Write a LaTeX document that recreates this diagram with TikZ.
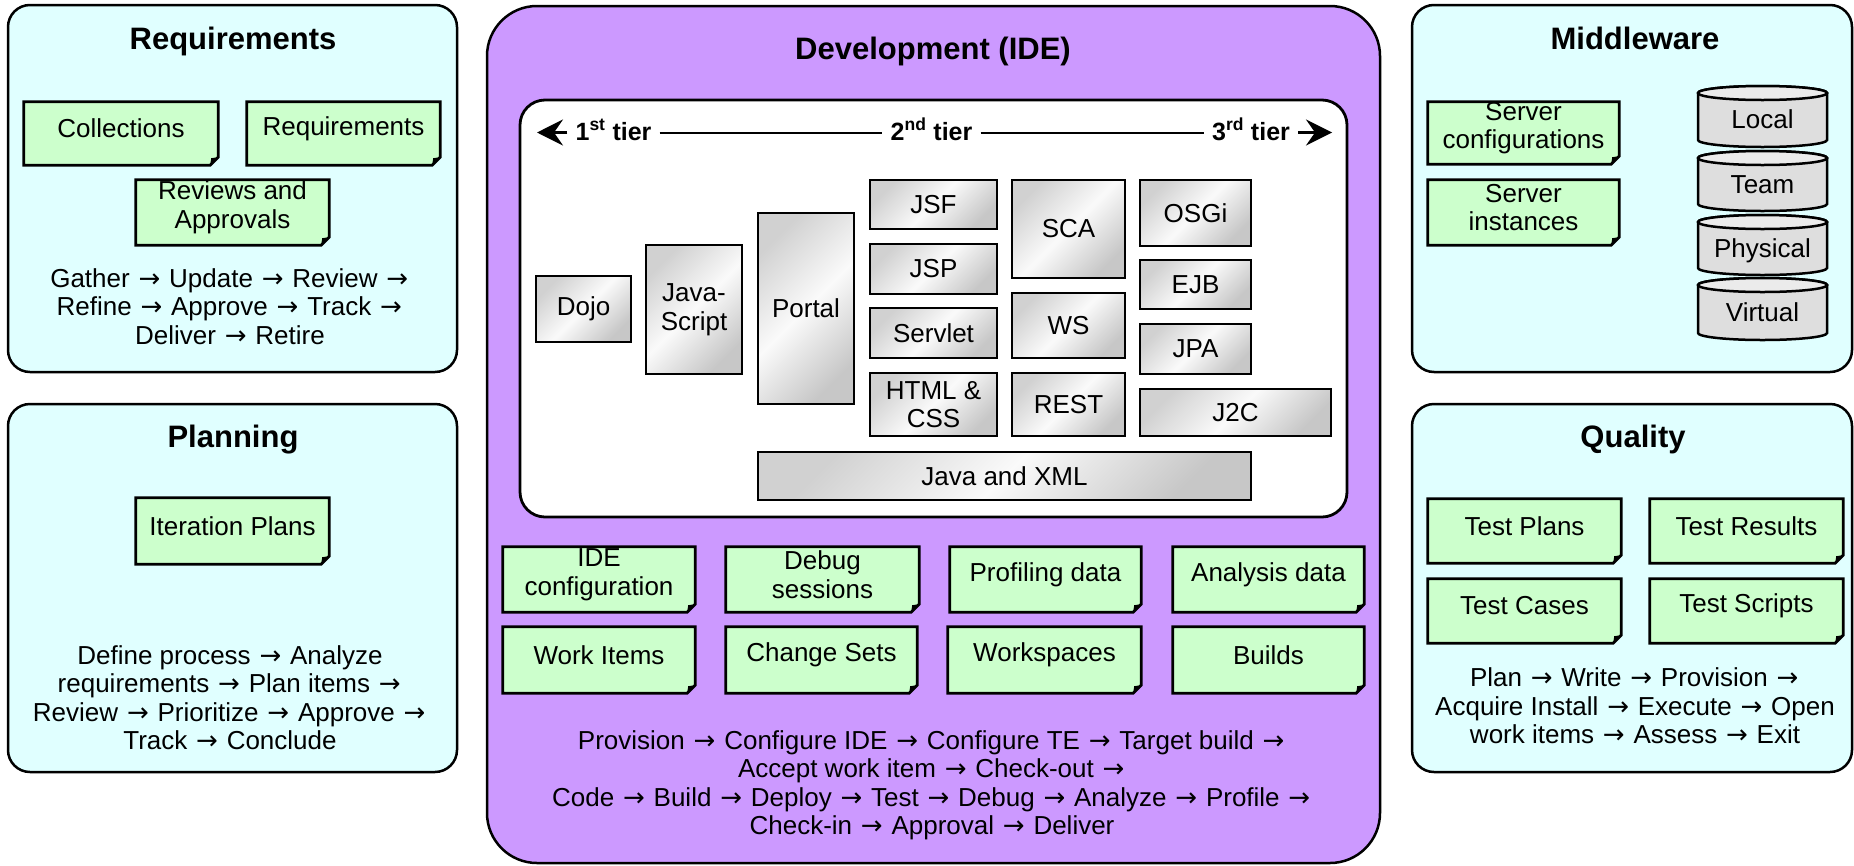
\documentclass[tikz,border=0pt]{standalone}
\usepackage{fontspec}
\setmainfont{Liberation Sans}
\newfontfamily\arrowfont{DejaVu Sans}[Scale=1.0]
\usetikzlibrary{arrows.meta}
\pgfdeclarelayer{background}
\pgfsetlayers{background,main}
\definecolor{cyanbg}{HTML}{E0FFFF}
\definecolor{devpurple}{HTML}{CC99FF}
\definecolor{notegreen}{HTML}{CCFFCC}
\definecolor{cylfill}{HTML}{DEDEDE}
\definecolor{cyltopfill}{HTML}{EBEBEB}
\newcommand\ra{\kern0.06em{\arrowfont →}\kern0.06em}
\newcommand\bodyfont{\fontsize{26}{28.5}\selectfont}
\newcommand\titlefont{\fontsize{31}{34}\selectfont\bfseries}
\newcommand\tierfont{\fontsize{25}{28}\selectfont\bfseries}
\tikzset{
  panel/.style={draw=black, line width=2.5pt, rounded corners=22pt, inner sep=0pt},
  paneltitle/.style={font=\titlefont, inner sep=0pt, anchor=base},
  txt/.style={font=\bodyfont, align=center, inner sep=0pt},
  cyltxt/.style={font=\bodyfont, inner sep=0pt, anchor=base},
  notetxt/.style={font=\bodyfont, align=center, inner sep=0pt},
  noteshape/.style={draw=black, fill=notegreen, line width=2.8pt, line join=miter},
  gbox/.style={draw=black, line width=2.8pt, font=\bodyfont, align=center, inner sep=0pt,
    top color=black!18, bottom color=black!22, middle color=black!2, shading angle=45},
  tier/.style={font=\tierfont, inner xsep=8pt, inner ysep=0pt, text height=15pt, text depth=0pt},
  tierline/.style={line width=2pt},
  tierarrow/.style={line width=2.5pt, -{Stealth[length=26pt,width=26pt,inset=9pt]}},
  cylbody/.style={draw=black, fill=cylfill, line width=2.5pt},
  cyltop/.style={draw=black, fill=cyltopfill, line width=2.5pt},
}
\newcommand\mknote[6]{%
  \node[notetxt, minimum width=#4, minimum height=#5] (#1) at (#2,#3-5) {#6};
  \begin{pgfonlayer}{background}
    \filldraw[noteshape] ([yshift=-5pt]#1.north west) -- ([yshift=-5pt]#1.north east)
      -- ([yshift=3pt]#1.south east) -- ([xshift=-8pt,yshift=-5pt]#1.south east)
      -- ([yshift=-5pt]#1.south west) -- cycle;
    \fill ([yshift=3pt]#1.south east) -- ([xshift=-8pt,yshift=-5pt]#1.south east)
      -- ([xshift=-7pt,yshift=2pt]#1.south east) -- cycle;
  \end{pgfonlayer}}
\newcommand\mkcyl[5]{% name, ytop, ybottom, baseline, label
  \begin{pgfonlayer}{background}
    \filldraw[cylbody] (1698,#2+7) -- (1698,#3-7)
      arc[start angle=180, end angle=360, x radius=64.5pt, y radius=7pt]
      -- (1827,#2+7)
      arc[start angle=0, end angle=180, x radius=64.5pt, y radius=7pt] -- cycle;
    \filldraw[cyltop] (1762.5,#2+7) ellipse [x radius=64.5pt, y radius=7pt];
  \end{pgfonlayer}
  \node[cyltxt] (#1) at (1762.5,#4) {#5};}
\begin{document}
\begin{tikzpicture}[x=1pt, y=-1pt]
\useasboundingbox (0,0) rectangle (1854,865);
% panels
\begin{pgfonlayer}{background}
  \node[panel, fill=cyanbg, minimum width=449, minimum height=367] (req) at (232.5,188.5) {};
  \node[panel, fill=cyanbg, minimum width=449, minimum height=368] (plan) at (232.5,588) {};
  \node[panel, fill=cyanbg, minimum width=440, minimum height=367] (mid) at (1632,188.5) {};
  \node[panel, fill=cyanbg, minimum width=440, minimum height=368] (qual) at (1632,588) {};
  \node[panel, fill=devpurple, rounded corners=50pt, minimum width=893, minimum height=857] (dev) at (933.5,434.5) {};
  \node[panel, fill=white, line width=2.8pt, rounded corners=25pt, minimum width=827, minimum height=417] (tiers) at (933.5,308.5) {};
\end{pgfonlayer}
% titles
\node[paneltitle] (reqt) at (233,49) {Requirements};
\node[paneltitle] (plant) at (233,447) {Planning};
\node[paneltitle] (midt) at (1635,49) {Middleware};
\node[paneltitle] (qualt) at (1633,447) {Quality};
\node[paneltitle] (devt) at (933,59) {Development (IDE)};
% requirements
\mknote{coll}{121}{133.5}{194}{63}{Collections}
\mknote{reqs}{343.5}{133.5}{193}{63}{Requirements}
\mknote{rev}{232.5}{212.5}{193}{65}{Reviews and\\Approvals}
\node[txt] (reqproc) at (230,306.5) {Gather \ra{} Update \ra{} Review \ra\\Refine \ra{} Approve \ra{} Track \ra\\Deliver \ra{} Retire};
% planning
\mknote{iter}{232.5}{531}{193}{66}{Iteration Plans}
\node[txt] (planproc) at (230,697.5) {Define process \ra{} Analyze\\requirements \ra{} Plan items \ra\\Review \ra{} Prioritize \ra{} Approve \ra\\Track \ra{} Conclude};
% middleware
\mknote{scfg}{1523.5}{133}{191}{62}{Server\\configurations}
\mknote{sins}{1523.5}{212.5}{191}{65}{Server\\instances}
\mkcyl{local}{86}{147}{128}{Local}
\mkcyl{team}{151}{211}{193}{Team}
\mkcyl{phys}{215}{275}{257}{Physical}
\mkcyl{virt}{278}{340}{321}{Virtual}
% quality
\mknote{tplan}{1524.5}{531}{193}{64}{Test Plans}
\mknote{tres}{1746.5}{531}{193}{64}{Test Results}
\mknote{tcase}{1524.5}{611}{193}{64}{Test Cases}
\mknote{tscr}{1746.5}{611}{193}{64}{Test Scripts}
\node[txt] (qualproc) at (1635,706) {Plan \ra{} Write \ra{} Provision \ra\\Acquire Install \ra{} Execute \ra{} Open\\work items \ra{} Assess \ra{} Exit};
% development: tiers
\node[tier] (t1) at (613.5,132.5) {1\textsuperscript{st} tier};
\node[tier] (t2) at (931.5,132.5) {2\textsuperscript{nd} tier};
\node[tier] (t3) at (1251,132.5) {3\textsuperscript{rd} tier};
\coordinate (la) at (537,132.5);
\coordinate (rarr) at (1332,132.5);
\draw[tierline] (t1) -- (t2);
\draw[tierline] (t2) -- (t3);
\draw[tierarrow] (t1) -- (la);
\draw[tierarrow] (t3) -- (rarr);
% development: grey boxes
\node[gbox, minimum width=95, minimum height=66] (dojo) at (583.5,309) {Dojo};
\node[gbox, minimum width=96, minimum height=129] (js) at (694,309.5) {Java-\\Script};
\node[gbox, minimum width=96, minimum height=191] (portal) at (806,308.5) {Portal};
\node[gbox, minimum width=127, minimum height=49] (jsf) at (933.5,204.5) {JSF};
\node[gbox, minimum width=127, minimum height=50] (jsp) at (933.5,269) {JSP};
\node[gbox, minimum width=127, minimum height=50] (servlet) at (933.5,333) {Servlet};
\node[gbox, minimum width=127, minimum height=63] (html) at (933.5,404.5) {HTML \&\\CSS};
\node[gbox, minimum width=113, minimum height=98] (sca) at (1068.5,229) {SCA};
\node[gbox, minimum width=113, minimum height=65] (ws) at (1068.5,325.5) {WS};
\node[gbox, minimum width=113, minimum height=63] (rest) at (1068.5,404.5) {REST};
\node[gbox, minimum width=111, minimum height=66] (osgi) at (1195.5,213) {OSGi};
\node[gbox, minimum width=111, minimum height=49] (ejb) at (1195.5,284.5) {EJB};
\node[gbox, minimum width=111, minimum height=50] (jpa) at (1195.5,349) {JPA};
\node[gbox, minimum width=191, minimum height=47] (j2c) at (1235.5,412.5) {J2C};
\node[gbox, minimum width=493, minimum height=48] (jxml) at (1004.5,476) {Java and XML};
% development: artefacts
\mknote{ide}{599}{579.5}{192}{65}{IDE\\configuration}
\mknote{dbg}{822.5}{579.5}{193}{65}{Debug\\sessions}
\mknote{prof}{1045.5}{579.5}{191}{65}{Profiling data}
\mknote{anal}{1268.5}{579.5}{191}{65}{Analysis data}
\mknote{work}{599}{660}{192}{66}{Work Items}
\mknote{chg}{821.5}{660}{191}{66}{Change Sets}
\mknote{wsp}{1044.5}{660}{193}{66}{Workspaces}
\mknote{bld}{1268.5}{660}{191}{66}{Builds}
\node[txt] (devproc) at (932,785.5) {Provision \ra{} Configure IDE \ra{} Configure TE \ra{} Target build \ra\\Accept work item \ra{} Check-out \ra\\Code \ra{} Build \ra{} Deploy \ra{} Test \ra{} Debug \ra{} Analyze \ra{} Profile \ra\\Check-in \ra{} Approval \ra{} Deliver};
\end{tikzpicture}
\end{document}
